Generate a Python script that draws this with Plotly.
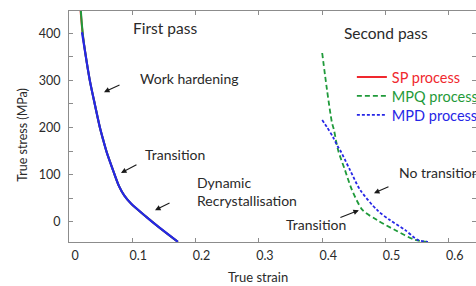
import plotly.graph_objects as go

# ---- data ----
# First pass (all three processes practically coincide)
p1_strain_sp = [0.017, 0.0215, 0.027, 0.033, 0.041, 0.049, 0.054, 0.060, 0.0695, 0.079, 0.0874, 0.098, 0.122, 0.142, 0.172]
p1_stress_sp = [470, 400, 347, 299, 248, 199, 174, 146, 110, 76, 56, 39, 11, -11, -42]
p1_strain_mpq = [0.0175, 0.0215, 0.027, 0.033, 0.041, 0.049, 0.054, 0.060, 0.0695, 0.079, 0.0874, 0.098, 0.122, 0.142, 0.172]
p1_stress_mpq = [470, 402, 347, 299, 248, 199, 174, 146, 110, 76, 56, 39, 11, -11, -42]
p1_strain_mpd = [0.0205, 0.027, 0.033, 0.041, 0.049, 0.054, 0.060, 0.0695, 0.079, 0.0874, 0.098, 0.122, 0.142, 0.172]
p1_stress_mpd = [402, 347, 299, 248, 199, 174, 146, 110, 76, 56, 39, 11, -11, -42]

# Second pass
p2_strain_mpq = [0.400, 0.4076, 0.4155, 0.4186, 0.425, 0.436, 0.447, 0.464, 0.487, 0.515, 0.547, 0.567]
p2_stress_mpq = [358, 280, 210, 195, 153, 110, 68, 25, 4, -17, -38, -42]
p2_strain_mpd = [0.400, 0.4076, 0.417, 0.425, 0.428, 0.444, 0.460, 0.487, 0.507, 0.531, 0.551, 0.567]
p2_stress_mpd = [216, 201, 180, 159, 153, 110, 68, 25, 4, -17, -38, -42]

series_names = ["SP process", "MPQ process", "MPD process"]
series_colors = ["#f0282e", "#1f9a3a", "#2626e6"]

x_ticks = [0, 0.1, 0.2, 0.3, 0.4, 0.5, 0.6]
x_tick_labels = ["0", "0.1", "0.2", "0.3", "0.4", "0.5", "0.6"]
y_ticks = [0, 100, 200, 300, 400]
y_tick_labels = ["0", "100", "200", "300", "400"]

FONT = "Lato, 'Open Sans', sans-serif"
TXT = "#2a2a2a"
AXC = "#8c8c8c"

fig = go.Figure()

def legend_name(i):
    return f"<span style='color:{series_colors[i]}'>{series_names[i]}</span>"

# first pass curves
fig.add_trace(go.Scatter(x=p1_strain_sp, y=p1_stress_sp, mode="lines",
                         line=dict(color=series_colors[0], width=2, shape="spline", smoothing=0.8),
                         name=legend_name(0), showlegend=True, legend="legend"))
fig.add_trace(go.Scatter(x=p1_strain_mpq, y=p1_stress_mpq, mode="lines",
                         line=dict(color=series_colors[1], width=2, shape="spline", smoothing=0.8),
                         showlegend=False))
fig.add_trace(go.Scatter(x=p1_strain_mpd, y=p1_stress_mpd, mode="lines",
                         line=dict(color=series_colors[2], width=2.2, shape="spline", smoothing=0.8),
                         showlegend=False))
# second pass curves
fig.add_trace(go.Scatter(x=p2_strain_mpq, y=p2_stress_mpq, mode="lines",
                         line=dict(color=series_colors[1], width=1.8, dash="5px,3px",
                                   shape="spline", smoothing=0.8),
                         name=legend_name(1), legend="legend2"))
fig.add_trace(go.Scatter(x=p2_strain_mpd, y=p2_stress_mpd, mode="lines",
                         line=dict(color=series_colors[2], width=1.8, dash="3px,2px",
                                   shape="spline", smoothing=0.8),
                         name=legend_name(2), legend="legend3"))

annotations = []
def text(x, y, s, size=14, xanchor="left"):
    annotations.append(dict(x=x, y=y, xref="x", yref="y", text=s, showarrow=False,
                            xanchor=xanchor, yanchor="middle", align="left",
                            font=dict(family=FONT, size=size, color=TXT)))

def arrow(x, y, ax, ay):
    annotations.append(dict(x=x, y=y, xref="x", yref="y", text="", showarrow=True,
                            ax=ax, ay=ay, arrowhead=2, arrowsize=1, arrowwidth=1.1,
                            arrowcolor="#1a1a1a"))

text(0.1517, 411, "First pass", size=15.5, xanchor="center")
text(0.109, 303, "Work hardening")
text(0.117, 144, "Transition")
text(0.199, 64, "Dynamic<br>Recrystallisation")
text(0.5008, 400, "Second pass", size=15.5, xanchor="center")
text(0.518, 104, "No transition")
text(0.3397, -6, "Transition")

arrow(0.0553, 275, 17, -8)
arrow(0.0821, 104, 17, -9)
arrow(0.1359, 25, 16, -8)
arrow(0.4818, 61, 16, -7)
arrow(0.458, 25, -20, 8)

# axis titles
annotations.append(dict(x=0.464, y=-0.152, xref="paper", yref="paper", text="True strain",
                        showarrow=False, xanchor="center", yanchor="middle",
                        font=dict(family=FONT, size=13, color=TXT)))
annotations.append(dict(x=-0.116, y=0.463, xref="paper", yref="paper", text="True stress (MPa)",
                        showarrow=False, textangle=-90, xanchor="center", yanchor="middle",
                        font=dict(family=FONT, size=12.5, color=TXT)))

def leg(y):
    return dict(x=0.695, y=y, xanchor="left", yanchor="middle",
                bgcolor="rgba(0,0,0,0)", font=dict(family=FONT, size=14.5),
                borderwidth=0)

fig.update_layout(
    width=476, height=286,
    margin=dict(l=69, r=0, t=11, b=44, autoexpand=False),
    paper_bgcolor="white", plot_bgcolor="white",
    font=dict(family=FONT, size=12, color=TXT),
    annotations=annotations,
    legend=leg(0.714), legend2=leg(0.632), legend3=leg(0.550),
    showlegend=True,
)
fig.update_xaxes(range=[0, 0.643], tickvals=x_ticks, ticktext=x_tick_labels,
                 showgrid=False, zeroline=False, showline=True, linecolor=AXC, linewidth=1.2,
                 mirror="ticks", ticks="inside", ticklen=4, tickcolor=AXC, tickwidth=1,
                 ticklabelshift=6, ticklabelstandoff=2,
                 tickfont=dict(family=FONT, size=12.5, color=TXT))
fig.update_yaxes(range=[-42.4, 447], tickvals=y_ticks, ticktext=y_tick_labels,
                 showgrid=False, zeroline=False, showline=True, linecolor=AXC, linewidth=1.2,
                 mirror="ticks", ticks="inside", ticklen=4, tickcolor=AXC, tickwidth=1,
                 minor=dict(dtick=50, ticks="inside", ticklen=4, tickcolor=AXC, showgrid=False),
                 ticklabelstandoff=5,
                 tickfont=dict(family=FONT, size=12.5, color=TXT))

fig.write_html("out.html", config={"displayModeBar": False},
               post_script="document.body.style.margin='0px';document.body.style.overflow='hidden';")
